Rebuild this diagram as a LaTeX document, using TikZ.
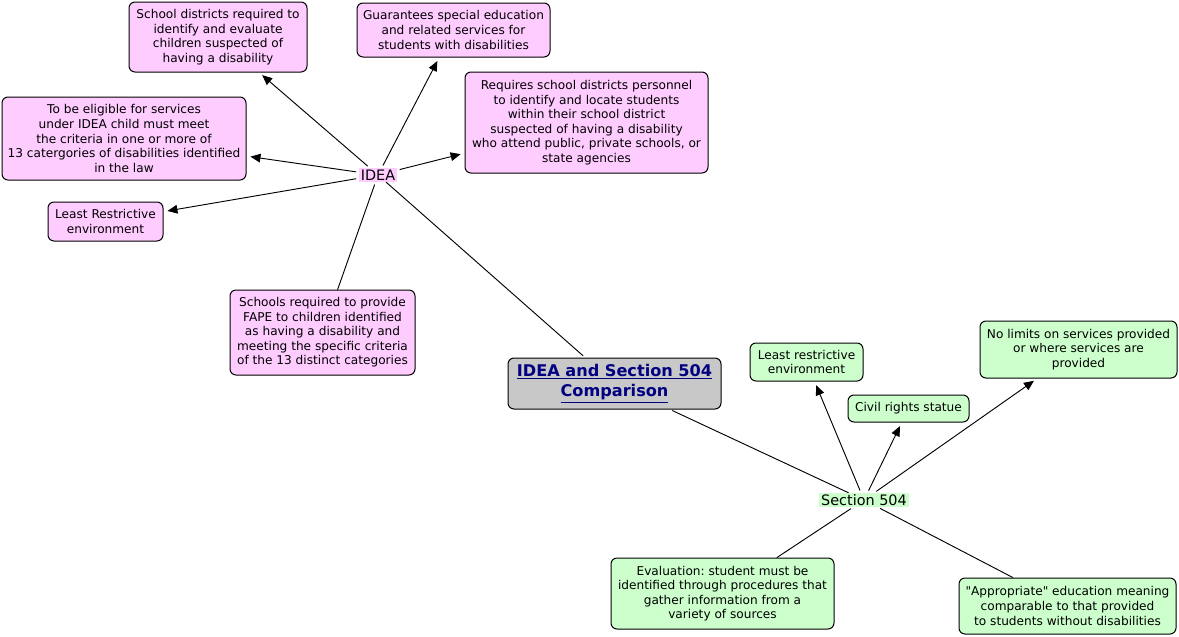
\documentclass[tikz,border=0pt]{standalone}
\usepackage{fontspec}
\setmainfont{DejaVu Sans}[Ligatures=TeXOff]
\usepackage{xcolor}
\usetikzlibrary{arrows.meta}
\definecolor{pinkfill}{HTML}{FFCCFF}
\definecolor{greenfill}{HTML}{CCFFCC}
\definecolor{grayfill}{HTML}{C8C8C8}
\definecolor{navytext}{HTML}{000080}
\frenchspacing
\begin{document}
\begin{tikzpicture}[line cap=round,line join=round,>={Triangle[length=7.5pt,width=6.5pt]},x=0.75pt,y=-0.75pt,
  concept/.style={draw=black,line width=0.75pt,rounded corners=4.5pt,align=center,inner sep=0pt,font=\fontsize{9.1}{10.9}\selectfont},
  ideabox/.style={concept,fill=pinkfill},
  secbox/.style={concept,fill=greenfill},
  hub/.style={inner xsep=1.5pt,inner ysep=0pt,minimum height=10.5pt,font=\fontsize{10.8}{11}\selectfont},
  link/.style={line width=0.7pt,shorten <=2pt},
  arrowlink/.style={link,->,shorten >=3pt}]
\useasboundingbox (0,0) rectangle (1179,636);
\node[ideabox,minimum width=133.5pt,minimum height=52.5pt] (evaluate) at (218,37) {School districts required to\\identify and evaluate\\children suspected of\\having a disability};
\node[ideabox,minimum width=144.75pt,minimum height=40.5pt] (guarantee) at (453.5,30) {Guarantees special education\\and related services for\\students with disabilities};
\node[ideabox,minimum width=182.25pt,minimum height=75.75pt] (locate) at (586.5,122.5) {Requires school districts personnel\\to identify and locate students\\within their school district\\suspected of having a disability\\who attend public, private schools, or\\state agencies};
\node[ideabox,minimum width=183pt,minimum height=62.25pt] (eligible) at (124,138.5) {To be eligible for services\\under IDEA child must meet\\the criteria in one or more of\\13 catergories of disabilities identified\\in the law};
\node[ideabox,minimum width=86.25pt,minimum height=29.25pt] (lre) at (105.5,221.5) {Least Restrictive\\environment};
\node[ideabox,minimum width=138.75pt,minimum height=63.75pt] (fape) at (322.5,332.5) {Schools required to provide\\FAPE to children identified\\as having a disability and\\meeting the specific criteria\\of the 13 distinct categories};
\node[hub,fill=pinkfill] (idea) at (378,175) {IDEA};
\node[concept,fill=grayfill,minimum width=159.75pt,minimum height=38.25pt,text=navytext,font=\fontsize{12.1}{15}\selectfont\bfseries] (main) at (614.5,383.5) {\underline{IDEA and Section 504}\\\underline{Comparison}};
\node[hub,fill=greenfill] (sec) at (864,500) {Section 504};
\node[secbox,minimum width=84.75pt,minimum height=28.5pt] (restrict) at (806.5,362) {Least restrictive\\environment};
\node[secbox,minimum width=90.75pt,minimum height=20.25pt] (civil) at (908.5,408.5) {Civil rights statue};
\node[secbox,minimum width=147.75pt,minimum height=42.75pt] (nolimit) at (1078.5,349.5) {No limits on services provided\\or where services are\\provided};
\node[secbox,minimum width=167.25pt,minimum height=53.25pt] (evaluation) at (722.5,593.5) {Evaluation: student must be\\identified through procedures that\\gather information from a\\variety of sources};
\node[secbox,minimum width=162.75pt,minimum height=42pt] (appropriate) at (1067.5,606) {"Appropriate" education meaning\\comparable to that provided\\to students without disabilities};
\draw[arrowlink] (idea) -- (evaluate);
\draw[arrowlink] (idea) -- (guarantee);
\draw[arrowlink] (idea) -- (locate);
\draw[arrowlink] (idea) -- (eligible);
\draw[arrowlink] (idea) -- (lre);
\draw[link] (idea) -- (fape);
\draw[link] (main) -- (idea);
\draw[link] (main) -- (sec);
\draw[arrowlink] (sec) -- (restrict);
\draw[arrowlink] (sec) -- (civil);
\draw[arrowlink] (sec) -- (nolimit);
\draw[link] (sec) -- (evaluation);
\draw[link] (sec) -- (appropriate);
\end{tikzpicture}
\end{document}
